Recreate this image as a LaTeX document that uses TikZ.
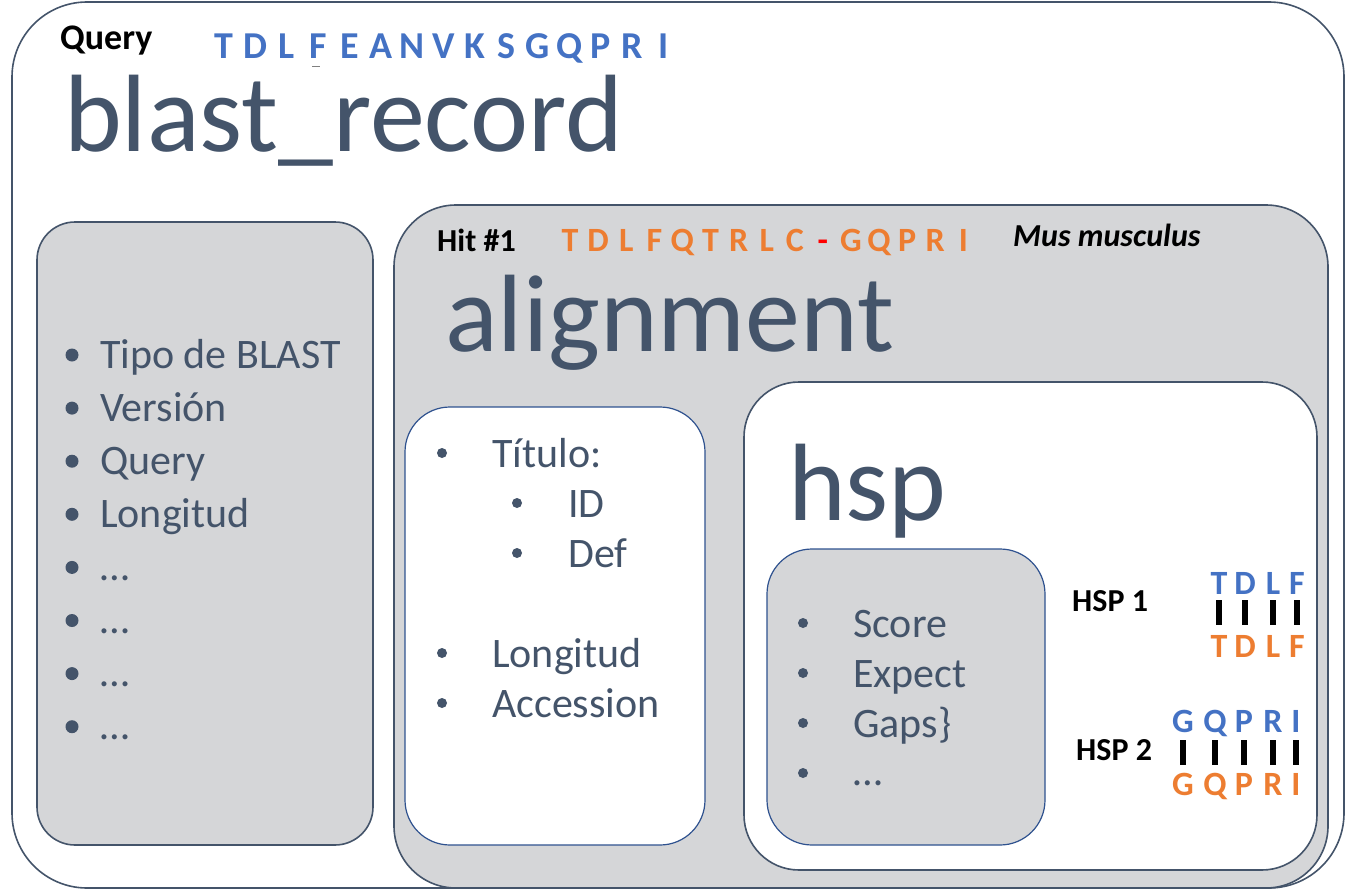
\documentclass[tikz,border=0pt]{standalone}
\usepackage{fontspec}
\setmainfont{Carlito}
\usepackage{xcolor}
\definecolor{slate}{HTML}{44546A}
\definecolor{boxgray}{HTML}{D5D6D8}
\definecolor{seqblue}{HTML}{4472C4}
\definecolor{seqorange}{HTML}{ED7D31}
\definecolor{linkblue}{HTML}{2F528F}
\newcommand{\setfs}[1]{\fontsize{#1}{#1}\selectfont}

\begin{document}
\begin{tikzpicture}[x=1pt, y=-1pt,
    panel/.style={rectangle, draw=slate, line width=1.6pt, inner sep=0pt},
    title/.style={anchor=base west, inner sep=0pt, text=slate, font=\setfs{110}},
    item/.style={anchor=base west, inner sep=0pt, text=slate, font=\setfs{42}},
    dot/.style={circle, fill=slate, inner sep=0pt, minimum size=#1},
    tag/.style={anchor=base west, inner sep=0pt, font=\bfseries\setfs{32}},
    res/.style={anchor=base, inner sep=0pt, font=\bfseries\setfs{#1}},
    bar/.style={rectangle, fill=black, inner sep=0pt, minimum width=6pt, minimum height=25pt}]

    \useasboundingbox (0,0) rectangle (1347,891);

    % Boxes
    \node[panel, fill=white, rounded corners=75pt, minimum width=1332pt, minimum height=886pt] (record) at (678,445) {};
    \node[panel, fill=boxgray, rounded corners=38pt, minimum width=336pt, minimum height=623pt] (general) at (205,533.5) {};
    \node[panel, fill=boxgray, rounded corners=62pt, minimum width=934pt, minimum height=683pt] (alignment) at (861,546.5) {};
    \node[panel, draw=linkblue, line width=1.2pt, fill=white, rounded corners=45pt, minimum width=300pt, minimum height=438pt] (titlebox) at (555,626) {};
    \node[panel, fill=white, rounded corners=55pt, minimum width=573pt, minimum height=488pt] (hsp) at (1030.5,626) {};
    \node[panel, draw=linkblue, line width=1.2pt, fill=boxgray, rounded corners=45pt, minimum width=278pt, minimum height=296pt] (hspinfo) at (906,697) {};

    % Query
    \node[tag, font=\bfseries\setfs{36}] (querylbl) at (60,50) {Query};
    \foreach \c [count=\i] in {T,D,L,F,E,A,N,V,K,S,G,Q,P,R,I}
        \node[res=38, text=seqblue] (q\i) at ({224+(\i-1)*31.4},59) {\c};
    \draw[gray, line width=1pt] (312,67) -- (320,67);
    \node[title] (recordlbl) at (64,151) {blast\_record};

    % General fields
    \foreach \t [count=\i] in {Tipo de BLAST,Versión,Query,Longitud}
        \node[item] (gen\i) at (100,{368+(\i-1)*53.1}) {\t};
    \foreach \i in {5,...,8}
        \node[item] (gen\i) at (100,{368+(\i-1)*53.1}) {…};
    \foreach \i in {1,...,8}
        \node[dot=13pt] (gdot\i) at (72,{355+(\i-1)*53.1}) {};

    % Hit #1
    \node[tag] (hitlbl) at (437,251) {Hit \#1};
    \foreach \c/\col [count=\i] in {T/seqorange,D/seqorange,L/seqorange,F/seqorange,Q/seqorange,T/seqorange,R/seqorange,L/seqorange,C/seqorange,-/red,G/seqorange,Q/seqorange,P/seqorange,R/seqorange,I/seqorange}
        \node[res=34, text=\col] (h\i) at ({570+(\i-1)*28.1},251) {\c};
    \node[tag, font=\bfseries\itshape\setfs{32}] (species) at (1013,246) {Mus musculus};
    \node[title] (alignlbl) at (445,351) {alignment};

    % Title fields
    \node[item] (titulo) at (492,467) {Título:};
    \node[item] (idlbl) at (568,517) {ID};
    \node[item] (deflbl) at (568,567) {Def};
    \node[item] (lenlbl) at (492,667) {Longitud};
    \node[item] (acclbl) at (492,717) {Accession};
    \node[dot=10pt] (tdot1) at (442,453) {};
    \node[dot=10pt] (tdot2) at (517,503) {};
    \node[dot=10pt] (tdot3) at (517,553) {};
    \node[dot=10pt] (tdot4) at (442,653) {};
    \node[dot=10pt] (tdot5) at (442,703) {};

    % hsp
    \node[title] (hsplbl) at (788,520) {hsp};
    \foreach \t [count=\i] in {Score,Expect,Gaps\}}
        \node[item] (hs\i) at (853,{637+(\i-1)*50}) {\t};
    \node[item] (hs4) at (853,785) {…};
    \foreach \i in {1,...,4}
        \node[dot=10pt] (hdot\i) at (803,{623+(\i-1)*50}) {};

    % HSP 1
    \node[tag] (hsp1) at (1072,611) {HSP 1};
    \foreach \c/\x [count=\i] in {T/1219,D/1245,L/1273,F/1297} {
        \node[res=34, text=seqblue] (a\i) at (\x,594) {\c};
        \node[bar] (ab\i) at (\x,612) {};
        \node[res=34, text=seqorange] (b\i) at (\x,657) {\c};
    }

    % HSP 2
    \node[tag] (hsp2) at (1076,760) {HSP 2};
    \foreach \c/\x [count=\i] in {G/1183,Q/1215,P/1244,R/1273,I/1296} {
        \node[res=34, text=seqblue] (c\i) at (\x,732) {\c};
        \node[bar] (cb\i) at (\x,752) {};
        \node[res=34, text=seqorange] (d\i) at (\x,795) {\c};
    }
\end{tikzpicture}
\end{document}
